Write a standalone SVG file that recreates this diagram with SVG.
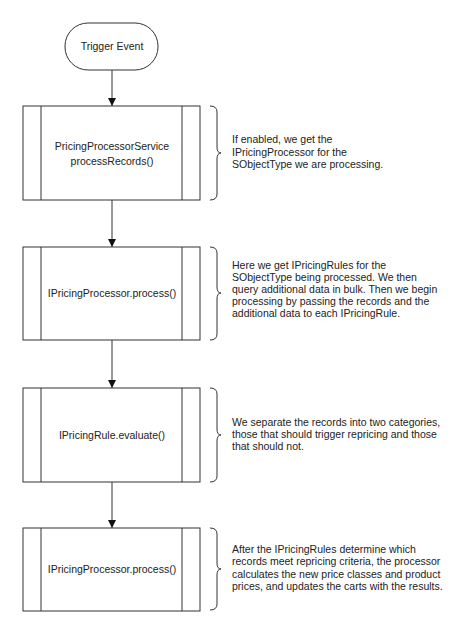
<svg xmlns="http://www.w3.org/2000/svg" width="470" height="635" viewBox="0 0 470 635">
<style>
.box{fill:#fff;stroke:#333;stroke-width:1}
.ln{stroke:#333;stroke-width:1;fill:none}
.br{stroke:#333;stroke-width:1;fill:none}
.t{font-family:"Liberation Sans",Arial,sans-serif;font-size:10.5px;fill:#222}
.c{text-anchor:middle}
</style>
<defs>
<marker id="ah" markerWidth="8" markerHeight="10" refX="8" refY="5" orient="auto" markerUnits="userSpaceOnUse">
<path d="M0,1 L8,5 L0,9 Z" fill="#111"/>
</marker>
</defs>
<rect width="470" height="635" fill="#fff"/>
<g id="connectors">
<line class="ln" x1="112" y1="70" x2="112" y2="106" marker-end="url(#ah)"/>
<line class="ln" x1="112" y1="200" x2="112" y2="247" marker-end="url(#ah)"/>
<line class="ln" x1="112" y1="340" x2="112" y2="388" marker-end="url(#ah)"/>
<line class="ln" x1="112" y1="482" x2="112" y2="528" marker-end="url(#ah)"/>
</g>
<g id="trigger">
<rect class="box" x="65" y="23" width="93" height="47" rx="23" ry="23"/>
<text class="t c" x="112" y="50">Trigger Event</text>
</g>
<g id="node1">
<rect class="box" x="23" y="106" width="177" height="94"/>
<line class="ln" x1="41" y1="106" x2="41" y2="200"/>
<line class="ln" x1="182" y1="106" x2="182" y2="200"/>
<text class="t c" x="112" y="150">PricingProcessorService</text>
<text class="t c" x="112" y="165">processRecords()</text>
</g>
<g id="note1">
<path class="br" d="M210,106 Q217,106 217,112 L217,147 Q217,153 221,153 Q217,153 217,159 L217,194 Q217,200 210,200"/>
<text class="t" x="232" y="143">If enabled, we get the</text>
<text class="t" x="232" y="155.5">IPricingProcessor for the</text>
<text class="t" x="232" y="168">SObjectType we are processing.</text>
</g>
<g id="node2">
<rect class="box" x="23" y="247" width="177" height="93"/>
<line class="ln" x1="41" y1="247" x2="41" y2="340"/>
<line class="ln" x1="182" y1="247" x2="182" y2="340"/>
<text class="t c" x="112" y="297">IPricingProcessor.process()</text>
</g>
<g id="note2">
<path class="br" d="M210,247 Q217,247 217,253 L217,287 Q217,293 221,293 Q217,293 217,299 L217,334 Q217,340 210,340"/>
<text class="t" x="232" y="268.5">Here we get IPricingRules for the</text>
<text class="t" x="232" y="280.5">SObjectType being processed. We then</text>
<text class="t" x="232" y="292.5">query additional data in bulk. Then we begin</text>
<text class="t" x="232" y="304.5">processing by passing the records and the</text>
<text class="t" x="232" y="316.5">additional data to each IPricingRule.</text>
</g>
<g id="node3">
<rect class="box" x="23" y="388" width="177" height="94"/>
<line class="ln" x1="41" y1="388" x2="41" y2="482"/>
<line class="ln" x1="182" y1="388" x2="182" y2="482"/>
<text class="t c" x="112" y="439">IPricingRule.evaluate()</text>
</g>
<g id="note3">
<path class="br" d="M210,388 Q217,388 217,394 L217,429 Q217,435 221,435 Q217,435 217,441 L217,476 Q217,482 210,482"/>
<text class="t" x="232" y="425.5">We separate the records into two categories,</text>
<text class="t" x="232" y="437.5">those that should trigger repricing and those</text>
<text class="t" x="232" y="449.5">that should not.</text>
</g>
<g id="node4">
<rect class="box" x="23" y="528" width="177" height="83"/>
<line class="ln" x1="41" y1="528" x2="41" y2="611"/>
<line class="ln" x1="182" y1="528" x2="182" y2="611"/>
<text class="t c" x="112" y="573">IPricingProcessor.process()</text>
</g>
<g id="note4">
<path class="br" d="M210,528 Q217,528 217,534 L217,563 Q217,569 221,569 Q217,569 217,575 L217,604 Q217,610 210,610"/>
<text class="t" x="232" y="552.5">After the IPricingRules determine which</text>
<text class="t" x="232" y="565">records meet repricing criteria, the processor</text>
<text class="t" x="232" y="577.5">calculates the new price classes and product</text>
<text class="t" x="232" y="590">prices, and updates the carts with the results.</text>
</g>
</svg>
